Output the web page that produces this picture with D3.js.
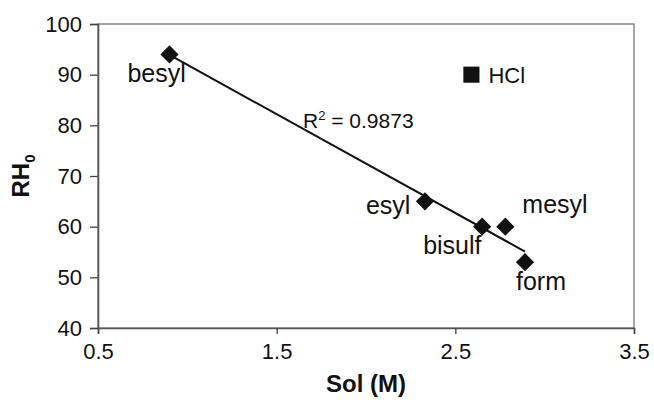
<!DOCTYPE html>
<html>
<head>
<meta charset="utf-8">
<script src="https://cdn.jsdelivr.net/npm/d3@7"></script>
<style>
  body { margin: 0; background: #fff; }
  text { font-family: Arial, "Liberation Sans", sans-serif; fill: #111; }
</style>
</head>
<body>
<div id="chart"></div>
<script>
// salt forms: solubility vs RH0
const saltNames = ["besyl", "esyl", "bisulf", "mesyl", "form"];
const solValues = [0.9, 2.33, 2.65, 2.78, 2.89];
const rhValues = [94, 65, 60, 60, 53];
const hclPoint = [2.59, 90];
const xTicks = [0.5, 1.5, 2.5, 3.5];
const yTicks = [40, 50, 60, 70, 80, 90, 100];

const width = 654, height = 400;
const margin = {left: 98, right: 20, top: 24, bottom: 72};

const svg = d3.select('#chart').append('svg')
    .attr('width', width)
    .attr('height', height);

const x = d3.scaleLinear().domain([0.5, 3.5]).range([margin.left, width - margin.right]);
const y = d3.scaleLinear().domain([40, 100]).range([height - margin.bottom, margin.top]);

// frame
svg.append('rect')
    .attr('x', x(0.5)).attr('y', y(100))
    .attr('width', x(3.5) - x(0.5)).attr('height', y(40) - y(100))
    .attr('fill', 'none').attr('stroke', '#777').attr('stroke-width', 1.3);

const xAxis = svg.append('g')
    .attr('transform', `translate(0,${y(40)})`)
    .call(d3.axisBottom(x).tickValues(xTicks).tickFormat(d3.format('.1f')).tickSize(6).tickPadding(9));
const yAxis = svg.append('g')
    .attr('transform', `translate(${x(0.5)},0)`)
    .call(d3.axisLeft(y).tickValues(yTicks).tickSize(8).tickPadding(8));

[xAxis, yAxis].forEach(a => {
    a.select('.domain').attr('stroke', '#555').attr('stroke-width', 1.6);
    a.selectAll('.tick line').attr('stroke', '#444').attr('stroke-width', 1.3);
    a.selectAll('.tick text').attr('font-size', 22).attr('fill', '#111')
        .style('font-family', 'Arial, "Liberation Sans", sans-serif');
});

// linear trend through the salt points
const pts = saltNames.map((n, i) => ({name: n, sol: solValues[i], rh: rhValues[i]}));
const mx = d3.mean(solValues), my = d3.mean(rhValues);
const sxy = d3.sum(pts, p => (p.sol - mx) * (p.rh - my));
const sxx = d3.sum(pts, p => (p.sol - mx) ** 2);
const slope = sxy / sxx, icpt = my - slope * mx;
const [xmin, xmax] = d3.extent(solValues);

svg.append('line')
    .attr('x1', x(xmin)).attr('y1', y(icpt + slope * xmin))
    .attr('x2', x(xmax)).attr('y2', y(icpt + slope * xmax))
    .attr('stroke', '#111').attr('stroke-width', 2);

svg.selectAll('path.pt')
    .data(pts)
    .enter()
    .append('path')
    .attr('class', 'pt')
    .attr('d', d3.symbol().type(d3.symbolSquare).size(165))
    .attr('transform', d => `translate(${x(d.sol)},${y(d.rh)}) rotate(45)`)
    .attr('fill', '#111');

svg.append('path')
    .attr('d', d3.symbol().type(d3.symbolSquare).size(260))
    .attr('transform', `translate(${x(hclPoint[0])},${y(hclPoint[1])})`)
    .attr('fill', '#111');

// label offsets relative to each marker
const labelOffsets = {
    besyl: [-42, 28], esyl: [-59, 13], bisulf: [-59, 27],
    mesyl: [17, -14], form: [-9, 28]
};
svg.selectAll('text.lbl')
    .data(pts)
    .enter()
    .append('text')
    .attr('class', 'lbl')
    .attr('x', d => x(d.sol) + labelOffsets[d.name][0])
    .attr('y', d => y(d.rh) + labelOffsets[d.name][1])
    .attr('font-size', 25)
    .text(d => d.name);

svg.append('text')
    .attr('x', x(hclPoint[0]) + 17)
    .attr('y', y(hclPoint[1]) + 8)
    .attr('font-size', 22)
    .text('HCl');

const r2 = svg.append('text')
    .attr('x', 303).attr('y', 128)
    .attr('font-size', 21);
r2.append('tspan').text('R');
r2.append('tspan').attr('font-size', 13).attr('dy', -8).text('2');
r2.append('tspan').attr('dy', 8).text(' = 0.9873');

svg.append('text')
    .attr('x', (x(0.5) + x(3.5)) / 2).attr('y', 392)
    .attr('text-anchor', 'middle')
    .attr('font-size', 24).attr('font-weight', 'bold')
    .text('Sol (M)');

const yl = svg.append('text')
    .attr('transform', `translate(29,${(y(40) + y(100)) / 2}) rotate(-90)`)
    .attr('text-anchor', 'middle')
    .attr('font-size', 24).attr('font-weight', 'bold');
yl.append('tspan').text('RH');
yl.append('tspan').attr('font-size', 15).attr('dy', 6).text('0');
</script>
</body>
</html>
